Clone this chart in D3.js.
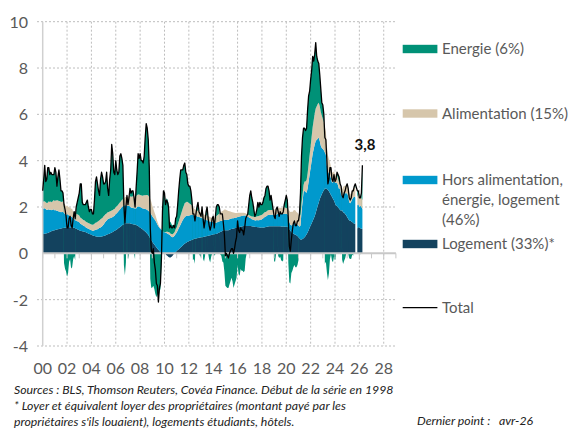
<!DOCTYPE html>
<html>
<head>
<meta charset="utf-8">
<script src="https://cdn.jsdelivr.net/npm/d3@7"></script>
<style>
  body { margin: 0; background: #fff; }
  svg { display: block; font-family: Lato, "Open Sans", sans-serif; }
</style>
</head>
<body>
<script>

// US CPI, glissement annuel (%) et contributions, mensuel de janv. 2000 a avr. 2026
const startYear = 2000;

const total = [
  2.7, 3.2, 3.8, 3.1, 3.2, 3.7, 3.7, 3.4, 3.5, 3.4, 3.4, 3.4,
  3.7, 3.5, 2.9, 3.3, 3.6, 3.2, 2.7, 2.7, 2.6, 2.1, 1.9, 1.6,
  1.1, 1.1, 1.5, 1.6, 1.2, 1.1, 1.5, 1.8, 1.5, 2.0, 2.2, 2.4,
  2.6, 3.0, 3.0, 2.2, 2.1, 2.1, 2.1, 2.2, 2.3, 2.0, 1.8, 1.9,
  1.9, 1.7, 1.7, 2.3, 3.1, 3.3, 3.0, 2.7, 2.5, 3.2, 3.5, 3.3,
  3.0, 3.0, 3.1, 3.5, 2.8, 2.5, 3.2, 3.6, 4.7, 4.3, 3.5, 3.4,
  4.0, 3.6, 3.4, 3.5, 4.2, 4.3, 4.1, 3.8, 2.1, 1.3, 2.0, 2.5,
  2.1, 2.4, 2.8, 2.6, 2.7, 2.7, 2.4, 2.0, 2.8, 3.5, 4.3, 4.1,
  4.3, 4.0, 4.0, 3.9, 4.2, 5.0, 5.6, 5.4, 4.9, 3.7, 1.1, 0.1,
  0.0, 0.2, -0.4, -0.7, -1.3, -1.4, -2.1, -1.5, -1.3, -0.2, 1.8, 2.7,
  2.6, 2.1, 2.3, 2.2, 2.0, 1.1, 1.2, 1.1, 1.1, 1.2, 1.1, 1.5,
  1.6, 2.1, 2.7, 3.2, 3.6, 3.6, 3.6, 3.8, 3.9, 3.5, 3.4, 3.0,
  2.9, 2.9, 2.7, 2.3, 1.7, 1.7, 1.4, 1.7, 2.0, 2.2, 1.8, 1.7,
  1.6, 2.0, 1.5, 1.1, 1.4, 1.8, 2.0, 1.5, 1.2, 1.0, 1.2, 1.5,
  1.6, 1.1, 1.5, 2.0, 2.1, 2.1, 2.0, 1.7, 1.7, 1.7, 1.3, 0.8,
  -0.1, 0.0, -0.1, -0.2, 0.0, 0.1, 0.2, 0.2, 0.0, 0.2, 0.5, 0.7,
  1.4, 1.0, 0.9, 1.1, 1.0, 1.0, 0.8, 1.1, 1.5, 1.6, 1.7, 2.1,
  2.5, 2.7, 2.4, 2.2, 1.9, 1.6, 1.7, 1.9, 2.2, 2.0, 2.2, 2.1,
  2.1, 2.2, 2.4, 2.5, 2.8, 2.9, 2.9, 2.7, 2.3, 2.5, 2.2, 1.9,
  1.6, 1.5, 1.9, 2.0, 1.8, 1.6, 1.8, 1.7, 1.7, 1.8, 2.1, 2.3,
  2.5, 2.3, 1.5, 0.3, 0.1, 0.6, 1.0, 1.3, 1.4, 1.2, 1.2, 1.4,
  1.4, 1.7, 2.6, 4.2, 5.0, 5.4, 5.4, 5.3, 5.4, 6.2, 6.8, 7.0,
  7.5, 7.9, 8.5, 8.3, 8.6, 9.1, 8.5, 8.3, 8.2, 7.7, 7.1, 6.5,
  6.4, 6.0, 5.0, 4.9, 4.0, 3.0, 3.2, 3.7, 3.7, 3.2, 3.1, 3.4,
  3.1, 3.2, 3.5, 3.4, 3.3, 3.0, 2.9, 2.5, 2.4, 2.6, 2.7, 2.9,
  3.0, 2.8, 2.4, 2.3, 2.4, 2.7, 2.7, 2.9, 3.0, null, 2.7, 2.7,
  2.4, 2.4, 2.6, 3.8
];

const energie = [
  0.47, 0.96, 1.55, 0.89, 1.03, 1.52, 1.45, 1.18, 1.26, 1.19, 1.14, 1.10,
  1.45, 1.21, 0.62, 1.01, 1.35, 0.94, 0.48, 0.47, 0.36, -0.42, -0.66, -0.78,
  -1.00, -0.85, -0.36, -0.25, -0.65, -0.60, -0.25, -0.12, -0.30, 0.29, 0.51, 0.73,
  0.97, 1.45, 1.48, 0.72, 0.66, 0.67, 0.71, 0.85, 0.97, 0.69, 0.51, 0.63,
  0.65, 0.47, 0.45, 1.02, 1.78, 1.97, 1.64, 1.30, 1.07, 1.73, 2.00, 1.76,
  1.40, 1.36, 1.40, 1.78, 1.03, 0.71, 1.39, 1.77, 2.85, 2.43, 1.60, 1.47,
  2.00, 1.57, 1.32, 1.36, 2.01, 2.06, 1.80, 1.47, -0.50, -0.95, -0.40, 0.09,
  -0.25, -0.08, 0.34, 0.16, 0.25, 0.24, 0.00, -0.25, 0.34, 0.98, 1.76, 1.56,
  1.78, 1.49, 1.51, 1.40, 1.69, 2.49, 3.08, 2.88, 2.40, 1.28, -1.10, -1.50,
  -1.47, -1.40, -1.54, -1.75, -1.90, -1.75, -2.00, -1.60, -1.55, -0.56, 0.85, 1.80,
  1.70, 1.21, 1.45, 1.39, 1.24, 0.38, 0.53, 0.41, 0.38, 0.37, 0.18, 0.46,
  0.48, 0.85, 1.32, 1.68, 1.94, 1.80, 1.66, 1.75, 1.73, 1.30, 1.17, 0.78,
  0.73, 0.76, 0.59, 0.24, -0.30, -0.24, -0.45, 0.05, 0.15, 0.37, 0.00, -0.11,
  -0.16, 0.26, -0.23, -0.35, -0.10, 0.20, 0.37, 0.00, -0.25, -0.40, -0.15, 0.00,
  0.10, -0.10, -0.05, 0.40, 0.46, 0.42, 0.28, -0.05, -0.10, -0.35, -0.40, -0.80,
  -1.40, -1.45, -1.50, -1.50, -1.35, -1.20, -1.05, -1.20, -1.50, -1.35, -1.20, -1.05,
  -0.50, -0.90, -0.97, -0.68, -0.75, -0.75, -0.82, -0.75, -0.22, 0.00, 0.02, 0.44,
  0.87, 1.09, 0.81, 0.61, 0.32, 0.03, 0.13, 0.30, 0.60, 0.39, 0.57, 0.46,
  0.43, 0.50, 0.66, 0.72, 1.01, 1.07, 1.04, 0.83, 0.43, 0.63, 0.33, 0.01,
  -0.35, -0.35, 0.00, 0.06, -0.10, -0.20, -0.15, -0.30, -0.35, -0.30, 0.11, 0.32,
  0.55, 0.35, -0.40, -1.25, -1.30, -0.85, -0.75, -0.60, -0.50, -0.60, -0.60, -0.50,
  -0.30, 0.10, 0.95, 2.05, 2.48, 2.45, 2.30, 2.20, 2.23, 2.75, 2.95, 2.75,
  2.85, 2.85, 3.05, 2.55, 2.55, 2.85, 2.15, 1.85, 1.70, 1.35, 1.00, 0.55,
  0.60, 0.35, -0.45, -0.36, -0.82, -1.15, -0.87, -0.25, -0.04, -0.31, -0.38, -0.14,
  -0.31, -0.13, 0.14, 0.17, 0.25, -0.13, 0.07, -0.27, -0.46, -0.32, -0.21, -0.03,
  0.07, -0.01, -0.21, -0.24, -0.23, -0.05, -0.10, 0.01, 0.18, null, 0.27, 0.15,
  0.00, -0.05, 0.20, 1.50
];

const alimentation = [
  0.30, 0.30, 0.30, 0.30, 0.30, 0.30, 0.35, 0.35, 0.35, 0.35, 0.38, 0.40,
  0.40, 0.42, 0.45, 0.45, 0.45, 0.45, 0.45, 0.45, 0.45, 0.42, 0.40, 0.38,
  0.35, 0.35, 0.35, 0.35, 0.35, 0.35, 0.30, 0.30, 0.30, 0.30, 0.30, 0.30,
  0.28, 0.27, 0.26, 0.25, 0.25, 0.25, 0.25, 0.25, 0.25, 0.25, 0.25, 0.25,
  0.25, 0.25, 0.27, 0.28, 0.30, 0.30, 0.32, 0.33, 0.33, 0.35, 0.35, 0.35,
  0.35, 0.33, 0.32, 0.30, 0.30, 0.30, 0.30, 0.30, 0.30, 0.30, 0.30, 0.30,
  0.30, 0.30, 0.30, 0.30, 0.30, 0.30, 0.30, 0.30, 0.30, 0.35, 0.35, 0.35,
  0.40, 0.42, 0.44, 0.46, 0.48, 0.50, 0.50, 0.52, 0.52, 0.52, 0.52, 0.52,
  0.52, 0.53, 0.54, 0.56, 0.58, 0.60, 0.62, 0.65, 0.65, 0.62, 0.60, 0.55,
  0.45, 0.38, 0.30, 0.25, 0.18, 0.12, 0.08, 0.05, 0.03, 0.00, -0.02, -0.02,
  0.00, 0.02, 0.05, 0.08, 0.10, 0.10, 0.10, 0.12, 0.12, 0.15, 0.15, 0.20,
  0.22, 0.26, 0.30, 0.35, 0.40, 0.45, 0.50, 0.55, 0.60, 0.60, 0.60, 0.60,
  0.55, 0.50, 0.45, 0.40, 0.35, 0.30, 0.28, 0.25, 0.25, 0.25, 0.25, 0.25,
  0.22, 0.22, 0.22, 0.20, 0.20, 0.20, 0.20, 0.20, 0.20, 0.18, 0.18, 0.18,
  0.20, 0.22, 0.24, 0.28, 0.30, 0.32, 0.34, 0.35, 0.40, 0.42, 0.42, 0.44,
  0.44, 0.42, 0.40, 0.38, 0.35, 0.32, 0.29, 0.26, 0.24, 0.22, 0.20, 0.19,
  0.18, 0.17, 0.16, 0.15, 0.14, 0.13, 0.12, 0.11, 0.10, 0.10, 0.10, 0.10,
  0.10, 0.10, 0.12, 0.13, 0.14, 0.14, 0.15, 0.16, 0.17, 0.18, 0.19, 0.20,
  0.20, 0.20, 0.20, 0.20, 0.20, 0.20, 0.20, 0.20, 0.20, 0.20, 0.20, 0.22,
  0.22, 0.22, 0.23, 0.25, 0.25, 0.25, 0.25, 0.25, 0.25, 0.28, 0.28, 0.28,
  0.25, 0.25, 0.28, 0.50, 0.55, 0.60, 0.55, 0.55, 0.55, 0.55, 0.50, 0.50,
  0.50, 0.45, 0.45, 0.35, 0.30, 0.30, 0.40, 0.45, 0.55, 0.65, 0.75, 0.85,
  0.95, 1.05, 1.15, 1.25, 1.35, 1.40, 1.45, 1.50, 1.50, 1.50, 1.45, 1.40,
  1.30, 1.20, 1.10, 1.00, 0.85, 0.70, 0.62, 0.55, 0.50, 0.45, 0.42, 0.40,
  0.35, 0.30, 0.30, 0.30, 0.28, 0.30, 0.30, 0.28, 0.31, 0.28, 0.32, 0.34,
  0.34, 0.35, 0.40, 0.38, 0.39, 0.40, 0.39, 0.43, 0.42, null, 0.35, 0.42,
  0.40, 0.40, 0.40, 0.40
];

const horsAlim = [
  1.10, 1.10, 1.10, 1.05, 1.00, 1.00, 1.00, 0.95, 0.95, 0.90, 0.90, 0.90,
  0.85, 0.85, 0.80, 0.80, 0.75, 0.75, 0.70, 0.70, 0.70, 0.65, 0.60, 0.55,
  0.60, 0.55, 0.50, 0.50, 0.45, 0.45, 0.40, 0.40, 0.35, 0.35, 0.35, 0.35,
  0.35, 0.30, 0.30, 0.28, 0.25, 0.25, 0.22, 0.20, 0.20, 0.20, 0.20, 0.20,
  0.20, 0.20, 0.22, 0.25, 0.28, 0.30, 0.32, 0.35, 0.38, 0.40, 0.42, 0.45,
  0.50, 0.55, 0.60, 0.62, 0.65, 0.65, 0.65, 0.65, 0.65, 0.65, 0.65, 0.65,
  0.70, 0.70, 0.72, 0.74, 0.76, 0.78, 0.80, 0.80, 0.80, 0.80, 0.78, 0.76,
  0.75, 0.75, 0.72, 0.70, 0.70, 0.70, 0.70, 0.70, 0.72, 0.80, 0.84, 0.87,
  0.90, 0.90, 0.90, 0.92, 0.95, 0.97, 1.00, 1.02, 1.05, 1.08, 1.10, 1.10,
  1.10, 1.10, 1.10, 1.10, 1.08, 1.05, 1.02, 1.00, 1.00, 0.98, 0.95, 0.92,
  0.90, 0.90, 0.88, 0.85, 0.82, 0.80, 0.75, 0.72, 0.70, 0.72, 0.75, 0.78,
  0.80, 0.85, 0.90, 0.95, 1.00, 1.05, 1.10, 1.12, 1.15, 1.15, 1.15, 1.12,
  1.10, 1.10, 1.10, 1.08, 1.05, 1.02, 1.00, 0.98, 0.95, 0.92, 0.90, 0.88,
  0.85, 0.82, 0.80, 0.75, 0.72, 0.70, 0.68, 0.65, 0.62, 0.60, 0.58, 0.56,
  0.55, 0.50, 0.48, 0.48, 0.48, 0.48, 0.48, 0.48, 0.46, 0.45, 0.45, 0.45,
  0.45, 0.45, 0.45, 0.45, 0.45, 0.45, 0.45, 0.45, 0.45, 0.45, 0.45, 0.45,
  0.45, 0.45, 0.45, 0.45, 0.45, 0.45, 0.45, 0.45, 0.45, 0.42, 0.40, 0.38,
  0.35, 0.33, 0.30, 0.30, 0.28, 0.28, 0.28, 0.30, 0.30, 0.30, 0.32, 0.32,
  0.35, 0.38, 0.42, 0.45, 0.45, 0.48, 0.50, 0.50, 0.50, 0.50, 0.50, 0.50,
  0.50, 0.50, 0.50, 0.52, 0.55, 0.55, 0.55, 0.55, 0.55, 0.55, 0.55, 0.55,
  0.55, 0.55, 0.50, 0.30, 0.25, 0.28, 0.35, 0.45, 0.50, 0.50, 0.50, 0.50,
  0.50, 0.50, 0.60, 1.20, 1.60, 2.00, 2.00, 1.90, 1.80, 1.90, 2.10, 2.30,
  2.50, 2.70, 2.90, 3.00, 3.10, 3.10, 3.00, 2.90, 2.80, 2.50, 2.20, 2.00,
  1.85, 1.73, 1.55, 1.46, 1.00, 0.80, 0.77, 0.80, 0.72, 0.62, 0.70, 0.86,
  0.90, 0.98, 1.01, 0.95, 0.83, 0.96, 0.69, 0.62, 0.79, 0.88, 0.90, 0.93,
  1.03, 0.97, 0.79, 0.74, 0.86, 1.00, 1.10, 1.18, 1.12, null, 1.01, 0.99,
  0.90, 0.97, 0.94, 0.85
];

const logement = [
  0.83, 0.84, 0.85, 0.86, 0.87, 0.88, 0.90, 0.92, 0.94, 0.96, 0.98, 1.00,
  1.00, 1.02, 1.03, 1.04, 1.05, 1.06, 1.07, 1.08, 1.09, 1.10, 1.10, 1.10,
  1.10, 1.12, 1.13, 1.13, 1.12, 1.12, 1.10, 1.10, 1.08, 1.06, 1.04, 1.02,
  1.00, 0.98, 0.96, 0.95, 0.94, 0.93, 0.92, 0.90, 0.88, 0.86, 0.84, 0.82,
  0.80, 0.78, 0.76, 0.75, 0.74, 0.73, 0.72, 0.72, 0.72, 0.72, 0.73, 0.74,
  0.75, 0.76, 0.78, 0.80, 0.82, 0.84, 0.86, 0.88, 0.90, 0.92, 0.95, 0.98,
  1.00, 1.03, 1.06, 1.10, 1.13, 1.16, 1.20, 1.23, 1.26, 1.28, 1.30, 1.30,
  1.30, 1.30, 1.30, 1.28, 1.27, 1.26, 1.25, 1.24, 1.22, 1.20, 1.18, 1.15,
  1.10, 1.08, 1.05, 1.02, 0.98, 0.94, 0.90, 0.85, 0.80, 0.72, 0.65, 0.58,
  0.50, 0.44, 0.38, 0.32, 0.26, 0.20, 0.15, 0.10, 0.06, 0.03, 0.02, 0.00,
  0.00, -0.03, -0.08, -0.12, -0.16, -0.18, -0.18, -0.15, -0.10, -0.04, 0.02, 0.06,
  0.10, 0.14, 0.18, 0.22, 0.26, 0.30, 0.34, 0.38, 0.42, 0.45, 0.48, 0.50,
  0.52, 0.54, 0.56, 0.58, 0.60, 0.62, 0.63, 0.64, 0.65, 0.66, 0.67, 0.68,
  0.69, 0.70, 0.71, 0.72, 0.73, 0.74, 0.75, 0.76, 0.77, 0.78, 0.79, 0.80,
  0.81, 0.82, 0.83, 0.84, 0.86, 0.88, 0.90, 0.92, 0.94, 0.96, 0.98, 1.00,
  1.00, 1.00, 1.00, 1.00, 1.02, 1.04, 1.05, 1.06, 1.07, 1.08, 1.09, 1.10,
  1.12, 1.13, 1.14, 1.15, 1.16, 1.17, 1.18, 1.18, 1.18, 1.18, 1.18, 1.18,
  1.18, 1.18, 1.17, 1.16, 1.16, 1.15, 1.14, 1.14, 1.13, 1.13, 1.12, 1.12,
  1.12, 1.12, 1.12, 1.13, 1.14, 1.15, 1.16, 1.17, 1.17, 1.17, 1.17, 1.17,
  1.17, 1.17, 1.17, 1.17, 1.17, 1.17, 1.17, 1.16, 1.16, 1.16, 1.16, 1.15,
  1.15, 1.15, 1.12, 1.05, 0.98, 0.92, 0.88, 0.85, 0.82, 0.80, 0.78, 0.75,
  0.70, 0.65, 0.60, 0.60, 0.62, 0.65, 0.70, 0.75, 0.82, 0.90, 1.00, 1.10,
  1.20, 1.30, 1.40, 1.50, 1.60, 1.75, 1.90, 2.05, 2.20, 2.35, 2.45, 2.55,
  2.65, 2.72, 2.80, 2.80, 2.78, 2.75, 2.68, 2.60, 2.52, 2.44, 2.36, 2.28,
  2.16, 2.05, 2.05, 1.98, 1.94, 1.87, 1.84, 1.87, 1.76, 1.76, 1.69, 1.66,
  1.56, 1.49, 1.42, 1.42, 1.38, 1.35, 1.31, 1.28, 1.28, null, 1.07, 1.14,
  1.10, 1.08, 1.06, 1.05
];

const yTicks = [-4, -2, 0, 2, 4, 6, 8, 10];
const xTickYears = [2000, 2002, 2004, 2006, 2008, 2010, 2012, 2014, 2016, 2018, 2020, 2022, 2024, 2026, 2028];
const xTickLabels = ['00', '02', '04', '06', '08', '10', '12', '14', '16', '18', '20', '22', '24', '26', '28'];

const keys = ['logement', 'horsAlim', 'alimentation', 'energie'];
const colors = {
  energie: '#009177',
  alimentation: '#D6C6AB',
  horsAlim: '#0099CD',
  logement: '#13425E',
};
const legendItems = [
  { key: 'energie', lines: ['Energie (6%)'], y: 49 },
  { key: 'alimentation', lines: ['Alimentation (15%)'], y: 113.5 },
  { key: 'horsAlim', lines: ['Hors alimentation,', 'énergie, logement', '(46%)'], y: 180 },
  { key: 'logement', lines: ['Logement (33%)*'], y: 244 },
];

const width = 571;
const height = 428;

const x = d3.scaleLinear().domain([2000, 2029]).range([42.7, 395.9]);
const y = d3.scaleLinear().domain([-4, 10]).range([346, 21.7]);

const rows = total.map((v, i) => ({
  t: startYear + i / 12,
  total: v,
  logement: logement[i],
  horsAlim: horsAlim[i],
  alimentation: alimentation[i],
  energie: energie[i],
}));

const svg = d3.select('body').append('svg')
  .attr('width', width)
  .attr('height', height);

// grille
const grid = svg.append('g');
grid.selectAll('.hgrid')
  .data(yTicks.filter(d => d !== 0))
  .enter().append('line')
  .attr('x1', 37)
  .attr('x2', x(2029))
  .attr('y1', d => y(d))
  .attr('y2', d => y(d))
  .attr('stroke', '#BDBDBD')
  .attr('stroke-dasharray', '2,2');

grid.selectAll('.vgrid')
  .data(xTickYears.slice(1))
  .enter().append('line')
  .attr('x1', d => x(d))
  .attr('x2', d => x(d))
  .attr('y1', y(10))
  .attr('y2', y(-4))
  .attr('stroke', '#BDBDBD')
  .attr('stroke-dasharray', '2,2');

// aires empilees
const series = d3.stack()
  .keys(keys)
  .value((d, key) => (d[key] == null ? 0 : d[key]))
  .offset(d3.stackOffsetDiverging)(rows);

const area = d3.area()
  .defined(d => d.data.total !== null)
  .x(d => x(d.data.t))
  .y0(d => y(d[0]))
  .y1(d => y(d[1]));

svg.append('g').selectAll('path')
  .data(series)
  .enter().append('path')
  .attr('d', area)
  .attr('fill', d => colors[d.key]);

// axe zero et axe vertical
svg.append('line')
  .attr('x1', x(2000))
  .attr('x2', x(2029))
  .attr('y1', y(0))
  .attr('y2', y(0))
  .attr('stroke', '#C8C8C8')
  .attr('stroke-width', 2);

svg.append('g').selectAll('line')
  .data(d3.range(2000, 2030))
  .enter().append('line')
  .attr('x1', d => x(d))
  .attr('x2', d => x(d))
  .attr('y1', y(0))
  .attr('y2', y(0) + 5)
  .attr('stroke', '#C8C8C8');

svg.append('line')
  .attr('x1', x(2000))
  .attr('x2', x(2000))
  .attr('y1', y(10))
  .attr('y2', y(-4))
  .attr('stroke', '#D0D0D0')
  .attr('stroke-width', 1.5);

// ligne total
const line = d3.line()
  .x(d => x(d.t))
  .y(d => y(d.total));

svg.append('path')
  .datum(rows.filter(d => d.total !== null))
  .attr('d', line)
  .attr('fill', 'none')
  .attr('stroke', '#000')
  .attr('stroke-width', 1.3)
  .attr('stroke-linejoin', 'round');

// dernier point
const last = rows[rows.length - 1];
svg.append('text')
  .attr('x', x(last.t) + 2.5)
  .attr('y', y(last.total) - 15)
  .attr('text-anchor', 'middle')
  .attr('font-size', 15)
  .attr('font-weight', 'bold')
  .attr('fill', '#111')
  .text(d3.format('.1f')(last.total).replace('.', ','));

// libelles des axes
svg.append('g').selectAll('text')
  .data(yTicks)
  .enter().append('text')
  .attr('x', 28)
  .attr('y', d => y(d) + 6)
  .attr('text-anchor', 'end')
  .attr('font-size', 16)
  .attr('fill', '#595959')
  .text(d => d);

svg.append('g').selectAll('text')
  .data(xTickYears)
  .enter().append('text')
  .attr('x', d => x(d))
  .attr('y', 374)
  .attr('text-anchor', 'middle')
  .attr('font-size', 16)
  .attr('fill', '#595959')
  .text((d, i) => xTickLabels[i]);

// legende
const legend = svg.append('g');
legendItems.forEach((item) => {
  legend.append('rect')
    .attr('x', 402.7)
    .attr('y', item.y - 4.2)
    .attr('width', 34.7)
    .attr('height', 8.4)
    .attr('fill', colors[item.key]);
  item.lines.forEach((l, j) => {
    legend.append('text')
      .attr('x', 442)
      .attr('y', item.y + 5.3 + j * 20)
      .attr('font-size', 15)
      .attr('fill', '#595959')
      .text(l);
  });
});
legend.append('line')
  .attr('x1', 402.7)
  .attr('x2', 437.4)
  .attr('y1', 307.7)
  .attr('y2', 307.7)
  .attr('stroke', '#000')
  .attr('stroke-width', 1.3);
legend.append('text')
  .attr('x', 442)
  .attr('y', 313)
  .attr('font-size', 15)
  .attr('fill', '#595959')
  .text('Total');

// notes
const notes = [
  'Sources : BLS, Thomson Reuters, Covéa Finance. Début de la série en 1998',
  '* Loyer et équivalent loyer des propriétaires (montant payé par les',
  'propriétaires s\'ils louaient), logements étudiants, hôtels.',
];
svg.append('g').selectAll('text')
  .data(notes)
  .enter().append('text')
  .attr('x', 14)
  .attr('y', (d, i) => 394 + i * 15.8)
  .attr('font-size', 12.3)
  .attr('font-style', 'italic')
  .attr('fill', '#222')
  .text(d => d);

svg.append('text')
  .attr('x', 417)
  .attr('y', 425)
  .attr('font-size', 12.3)
  .attr('font-style', 'italic')
  .attr('fill', '#222')
  .style('white-space', 'pre')
  .text('Dernier point :   avr-26');

</script>
</body>
</html>
